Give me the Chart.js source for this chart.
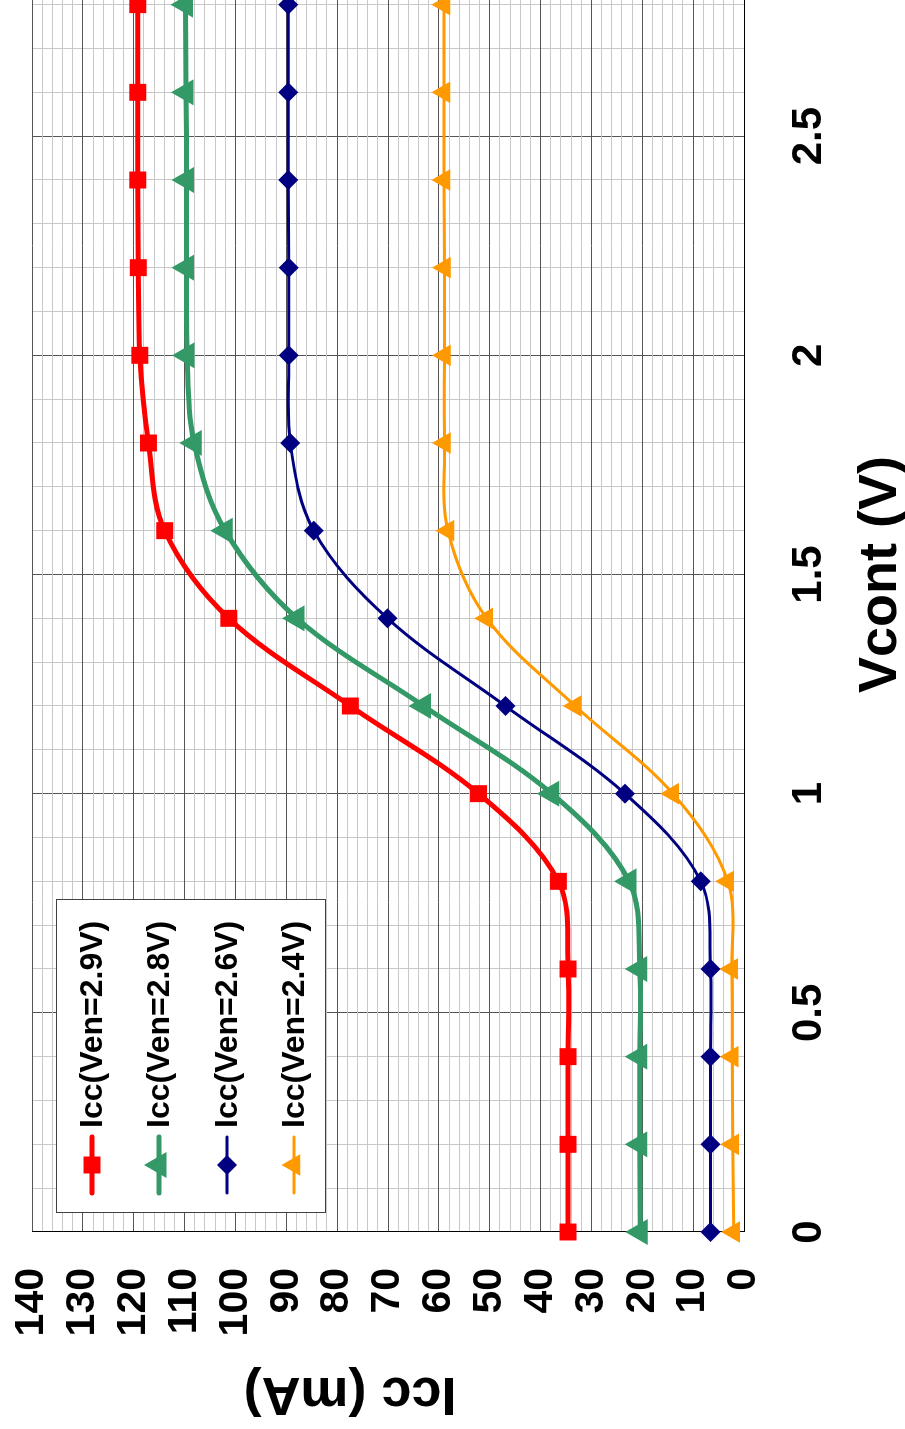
<!DOCTYPE html>
<html>
<head>
<meta charset="utf-8">
<script src="https://cdn.jsdelivr.net/npm/chart.js@4/dist/chart.umd.min.js"></script>
<style>
  html, body { margin: 0; padding: 0; background: #fff; }
  body { width: 905px; height: 1429px; overflow: hidden; position: relative; }
  /* chart is drawn landscape, then turned a quarter turn counter-clockwise */
  #wrap {
    position: absolute; left: 0; top: 0;
    width: 1560px; height: 905px;
    transform-origin: 0 0;
    transform: translate(0px, 1429px) rotate(-90deg);
  }
</style>
</head>
<body>
<div id="wrap"><canvas id="chart" width="1560" height="905"></canvas></div>
<script>
const vcont = [0, 0.2, 0.4, 0.6, 0.8, 1.0, 1.2, 1.4, 1.6, 1.8, 2.0, 2.2, 2.4, 2.6, 2.8];

const icc29 = [34.6, 34.6, 34.6, 34.6, 36.5, 52.2, 77.4, 101.3, 113.9, 117.1, 118.8, 119.1, 119.2, 119.2, 119.2];
const icc28 = [20.4, 20.5, 20.5, 20.5, 22.6, 37.8, 63.0, 87.9, 102.0, 108.1, 109.5, 109.6, 109.6, 109.7, 109.8];
const icc26 = [6.6, 6.6, 6.6, 6.6, 8.5, 23.4, 46.9, 70.1, 84.6, 89.2, 89.5, 89.5, 89.6, 89.6, 89.6];
const icc24 = [2.0, 2.2, 2.3, 2.4, 3.2, 14.0, 33.2, 50.6, 58.2, 58.9, 58.9, 58.9, 59.0, 59.0, 59.0];

const seriesNames = ["Icc(Ven=2.9V)", "Icc(Ven=2.8V)", "Icc(Ven=2.6V)", "Icc(Ven=2.4V)"];
const xTitle = "Vcont (V)";
const yTitle = "Icc (mA)";

const FONT = '"Liberation Sans", Arial, sans-serif';
const MAJOR = "#555555";
const MINOR = "#c8c8c8";

function toPoints(ys) {
  return vcont.map((x, i) => ({ x, y: ys[i] }));
}

function makeSet(label, ys, color, width, style, radius) {
  return {
    label,
    data: toPoints(ys),
    borderColor: color,
    backgroundColor: color,
    borderWidth: width,
    borderCapStyle: "round",
    borderJoinStyle: "round",
    tension: 0.35,
    clip: false,
    pointStyle: style,
    pointRadius: radius,
    pointHoverRadius: radius,
    pointBackgroundColor: color,
    pointBorderColor: color,
    pointBorderWidth: 0
  };
}

const datasets = [
  makeSet(seriesNames[0], icc29, "#ff0000", 5, "rect", 12),
  makeSet(seriesNames[1], icc28, "#339966", 5, "triangle", 15),
  makeSet(seriesNames[2], icc26, "#000080", 3, "rectRot", 10),
  makeSet(seriesNames[3], icc24, "#ff9900", 3, "triangle", 12.5)
];

function isMajorX(v) { return Math.abs(v * 2 - Math.round(v * 2)) < 1e-6; }
function isMajorY(v) { return Math.abs(v / 10 - Math.round(v / 10)) < 1e-6; }

function marker(ctx, style, r, x, y) {
  const h = Chart.helpers;
  if (h && h.drawPoint) {
    h.drawPoint(ctx, { pointStyle: style, radius: r, rotation: 0, borderWidth: 0 }, x, y);
    return;
  }
  ctx.beginPath();
  if (style === "rect") {
    const s = Math.SQRT1_2 * r;
    ctx.rect(x - s, y - s, 2 * s, 2 * s);
  } else if (style === "rectRot") {
    ctx.moveTo(x - r, y); ctx.lineTo(x, y - r); ctx.lineTo(x + r, y); ctx.lineTo(x, y + r);
  } else {
    for (let k = 0; k < 3; k += 1) {
      const a = k * 2 * Math.PI / 3;
      const px = x + Math.sin(a) * r, py = y - Math.cos(a) * r;
      if (k === 0) ctx.moveTo(px, py); else ctx.lineTo(px, py);
    }
  }
  ctx.closePath();
  ctx.fill();
}

// legend box and axis titles
const decorations = {
  id: "decorations",
  afterDraw(chart) {
    const ctx = chart.ctx;
    const area = chart.chartArea;
    ctx.save();

    // legend, sitting inside the plot near Vcont = 0
    const bx = area.left + 19, by = 56, bw = 313, bh = 269;
    ctx.fillStyle = "#fff";
    ctx.fillRect(bx, by, bw, bh);
    ctx.strokeStyle = "#404040";
    ctx.lineWidth = 1;
    ctx.strokeRect(bx + 0.5, by + 0.5, bw, bh);

    const rows = [92, 159, 227, 294];
    ctx.font = "bold 32px " + FONT;
    ctx.textAlign = "left";
    ctx.textBaseline = "middle";
    chart.data.datasets.forEach((ds, i) => {
      const y = rows[i];
      ctx.strokeStyle = ds.borderColor;
      ctx.lineWidth = ds.borderWidth;
      ctx.lineCap = "round";
      ctx.beginPath();
      ctx.moveTo(bx + 20, y);
      ctx.lineTo(bx + 76, y);
      ctx.stroke();
      ctx.fillStyle = ds.pointBackgroundColor;
      marker(ctx, ds.pointStyle, ds.pointRadius, bx + 48, y);
      ctx.fillStyle = "#000";
      ctx.fillText(ds.label, bx + 85, y + 1);
    });

    // axis titles
    ctx.fillStyle = "#000";
    ctx.font = "bold 54px " + FONT;
    ctx.textAlign = "center";
    ctx.textBaseline = "alphabetic";
    ctx.fillText(xTitle, (area.left + area.right) / 2, 896);
    ctx.translate(51, 350);
    ctx.rotate(-Math.PI / 2);
    ctx.fillText(yTitle, 0, 0);
    ctx.restore();
  }
};

new Chart(document.getElementById("chart"), {
  type: "line",
  data: { datasets },
  options: {
    responsive: false,
    animation: false,
    events: [],
    layout: { padding: { left: 0, top: 32, right: 48, bottom: 0 } },
    plugins: {
      legend: { display: false },
      tooltip: { enabled: false }
    },
    scales: {
      x: {
        type: "linear",
        min: 0,
        max: 3,
        afterFit: (s) => { s.height = 161; s.paddingLeft = 0; s.paddingRight = 0; },
        ticks: {
          stepSize: 0.1,
          autoSkip: false,
          maxRotation: 0,
          padding: 40,
          color: "#000",
          font: { family: FONT, size: 42, weight: "bold" },
          callback: (v) => (isMajorX(v) ? String(Math.round(v * 10) / 10) : "")
        },
        grid: {
          drawTicks: false,
          lineWidth: 1,
          color: (c) => (c.tick && isMajorX(c.tick.value) ? MAJOR : MINOR)
        },
        border: { display: true, color: "#000", width: 1 }
      },
      y: {
        type: "linear",
        min: 0,
        max: 140,
        afterFit: (s) => { s.width = 197; s.paddingTop = 0; s.paddingBottom = 0; },
        ticks: {
          stepSize: 2,
          autoSkip: false,
          padding: 36,
          color: "#000",
          font: { family: FONT, size: 41, weight: "bold" },
          callback: (v) => (isMajorY(v) ? String(v) : "")
        },
        grid: {
          drawTicks: false,
          lineWidth: 1,
          color: (c) => (c.tick && isMajorY(c.tick.value) ? MAJOR : MINOR)
        },
        border: { display: true, color: "#000", width: 1 }
      }
    }
  },
  plugins: [decorations]
});
</script>
</body>
</html>
